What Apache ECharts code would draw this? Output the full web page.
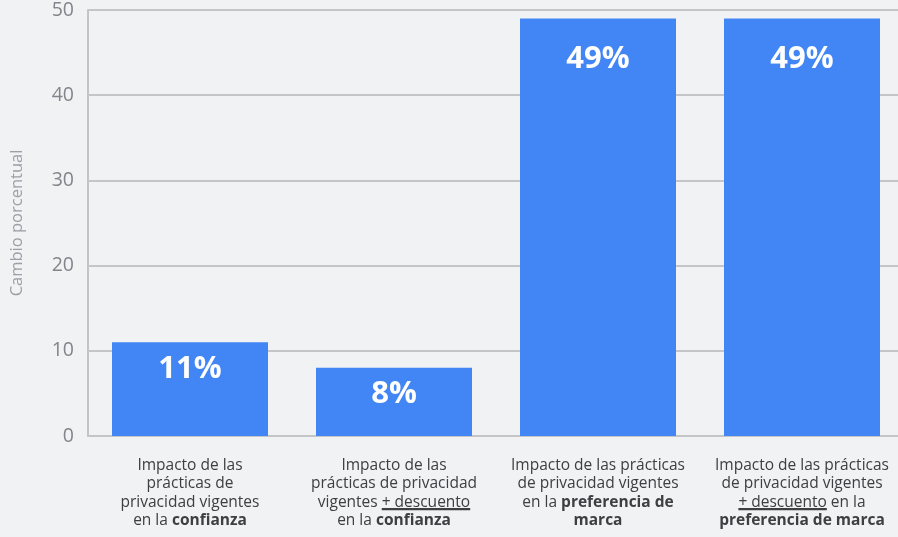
<!DOCTYPE html>
<html>
<head>
<meta charset="utf-8">
<style>
  html, body { margin: 0; padding: 0; background: #f1f2f4; overflow: hidden; }
  #chart { width: 904px; height: 537px; }
</style>
<script src="https://cdn.jsdelivr.net/npm/echarts@6/dist/echarts.min.js"></script>
</head>
<body>
<div id="chart"></div>
<script>
// Category labels (rich-text markup: {b|...} bold, {u|...} underlined)
const categories = [
  'Impacto de las\nprácticas de\nprivacidad vigentes\nen la {b|confianza}',
  'Impacto de las\nprácticas de privacidad\nvigentes {u|+ descuento}\nen la {b|confianza}',
  'Impacto de las prácticas\nde privacidad vigentes\nen la {b|preferencia de}\n{b|marca}',
  'Impacto de las prácticas\nde privacidad vigentes\n{u|+ descuento} en la\n{b|preferencia de marca}'
];
const values = [11, 8, 49, 49];
const yTicks = [0, 10, 20, 30, 40, 50];

const GRID_GREY = '#c4c5c7';
const TEXT_DARK = '#3c4043';
const FONT = '"Open Sans"';
const LABEL_SIZE = 15.5;
const LABEL_LH = 18.5;

const underline = new echarts.graphic.LinearGradient(0, 0, 0, 1, [
  { offset: 0, color: 'rgba(0,0,0,0)' },
  { offset: 0.87, color: 'rgba(0,0,0,0)' },
  { offset: 0.87, color: TEXT_DARK },
  { offset: 1, color: TEXT_DARK }
]);

const chart = echarts.init(document.getElementById('chart'), null, { renderer: 'canvas' });

chart.setOption({
  backgroundColor: '#f1f2f4',
  animation: false,
  grid: { left: 88, top: 8, bottom: 101, right: 0, containLabel: false },
  xAxis: {
    type: 'category',
    data: categories,
    axisTick: { show: false },
    axisLine: { show: true, lineStyle: { color: GRID_GREY, width: 2 } },
    axisLabel: {
      interval: 0,
      margin: 20,
      color: TEXT_DARK,
      fontFamily: FONT,
      fontSize: LABEL_SIZE,
      lineHeight: LABEL_LH,
      rich: {
        b: { fontWeight: 'bold', color: TEXT_DARK, fontFamily: FONT, fontSize: LABEL_SIZE, lineHeight: LABEL_LH },
        u: { color: TEXT_DARK, fontFamily: FONT, fontSize: LABEL_SIZE, lineHeight: LABEL_LH, backgroundColor: underline }
      }
    }
  },
  yAxis: {
    type: 'value',
    min: yTicks[0],
    max: yTicks[yTicks.length - 1],
    interval: 10,
    name: 'Cambio porcentual',
    nameLocation: 'middle',
    nameGap: 62,
    nameTextStyle: { color: '#9aa0a6', fontFamily: FONT, fontSize: 16.5 },
    axisLine: { show: true, lineStyle: { color: GRID_GREY, width: 2 } },
    axisTick: { show: false },
    axisLabel: { color: '#80868b', fontFamily: FONT, fontSize: 19.5, margin: 14, padding: [10, 0, 0, 0] },
    splitLine: { show: true, lineStyle: { color: GRID_GREY, width: 2 } }
  },
  series: [{
    type: 'bar',
    barWidth: 156,
    data: values.map(function (v) {
      return {
        value: v,
        label: { distance: v > 30 ? 25 : 11 }
      };
    }),
    itemStyle: { color: '#4285f4' },
    label: {
      show: true,
      position: 'insideTop',
      color: '#ffffff',
      fontFamily: FONT,
      fontWeight: 'bold',
      fontSize: 31,
      formatter: '{c}%'
    }
  }]
});
</script>
</body>
</html>
